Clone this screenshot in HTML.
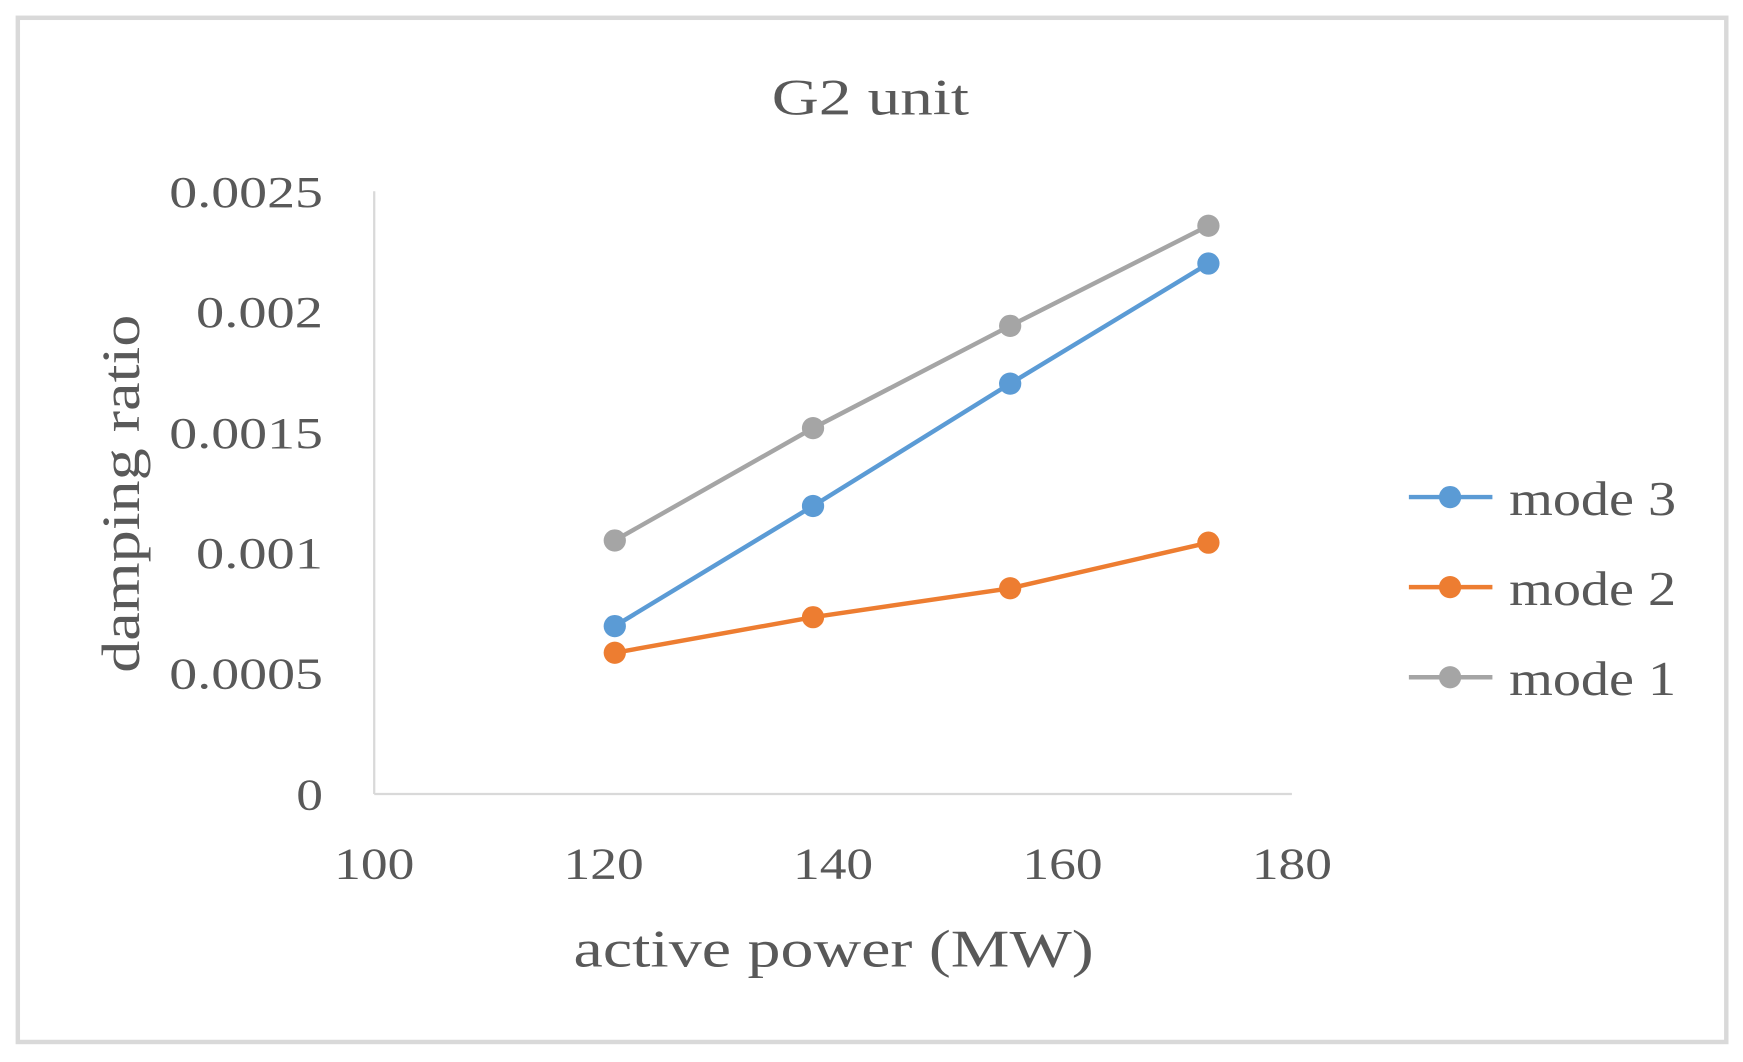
<!DOCTYPE html>
<html><head><style>html,body{margin:0;padding:0;background:#fff;}svg{display:block}</style></head>
<body>
<svg width="1743" height="1062" viewBox="0 0 1565 955" preserveAspectRatio="none" xmlns="http://www.w3.org/2000/svg" font-family="'Liberation Serif', serif" fill="#595959">
<rect x="0" y="0" width="1565" height="955" fill="#fff"/>
<rect x="16" y="16" width="1534" height="921" fill="#fff" stroke="#d9d9d9" stroke-width="4"/>
<text x="693" y="103" font-size="46" textLength="177" lengthAdjust="spacingAndGlyphs">G2 unit</text>
<line x1="336" y1="172" x2="336" y2="714" stroke="#d9d9d9" stroke-width="2"/>
<line x1="336" y1="714" x2="1160" y2="714" stroke="#d9d9d9" stroke-width="2"/>
<g font-size="40" lengthAdjust="spacingAndGlyphs">
<text x="266" y="728" textLength="24" lengthAdjust="spacingAndGlyphs">0</text>
<text x="152" y="619" textLength="138" lengthAdjust="spacingAndGlyphs">0.0005</text>
<text x="176" y="511" textLength="114" lengthAdjust="spacingAndGlyphs">0.001</text>
<text x="152" y="403" textLength="138" lengthAdjust="spacingAndGlyphs">0.0015</text>
<text x="176" y="294" textLength="114" lengthAdjust="spacingAndGlyphs">0.002</text>
<text x="152" y="186" textLength="138" lengthAdjust="spacingAndGlyphs">0.0025</text>
</g>
<g font-size="40">
<text x="300" y="790" textLength="72" lengthAdjust="spacingAndGlyphs">100</text>
<text x="506" y="790" textLength="72" lengthAdjust="spacingAndGlyphs">120</text>
<text x="712" y="790" textLength="72" lengthAdjust="spacingAndGlyphs">140</text>
<text x="918" y="790" textLength="72" lengthAdjust="spacingAndGlyphs">160</text>
<text x="1124" y="790" textLength="72" lengthAdjust="spacingAndGlyphs">180</text>
</g>
<text x="515" y="869" font-size="48" textLength="467" lengthAdjust="spacingAndGlyphs">active power (MW)</text>
<text transform="translate(125,605) rotate(-90)" font-size="48" textLength="322" lengthAdjust="spacingAndGlyphs">damping ratio</text>
<g stroke-width="4" fill="none">
<polyline points="552,486 730,385 907,293 1085,203" stroke="#a5a5a5"/>
<polyline points="552,563 730,455 907,345 1085,237" stroke="#5b9bd5"/>
<polyline points="552,587 730,555 907,529 1085,488" stroke="#ed7d31"/>
</g>
<g fill="#a5a5a5"><circle cx="552" cy="486" r="10"/><circle cx="730" cy="385" r="10"/><circle cx="907" cy="293" r="10"/><circle cx="1085" cy="203" r="10"/></g>
<g fill="#5b9bd5"><circle cx="552" cy="563" r="10"/><circle cx="730" cy="455" r="10"/><circle cx="907" cy="345" r="10"/><circle cx="1085" cy="237" r="10"/></g>
<g fill="#ed7d31"><circle cx="552" cy="587" r="10"/><circle cx="730" cy="555" r="10"/><circle cx="907" cy="529" r="10"/><circle cx="1085" cy="488" r="10"/></g>
<line x1="1265" y1="447" x2="1340" y2="447" stroke="#5b9bd5" stroke-width="4"/><circle cx="1302" cy="447" r="10" fill="#5b9bd5"/>
<line x1="1265" y1="528" x2="1340" y2="528" stroke="#ed7d31" stroke-width="4"/><circle cx="1302" cy="528" r="10" fill="#ed7d31"/>
<line x1="1265" y1="609" x2="1340" y2="609" stroke="#a5a5a5" stroke-width="4"/><circle cx="1302" cy="609" r="10" fill="#a5a5a5"/>
<g font-size="44">
<text x="1355" y="463" textLength="150" lengthAdjust="spacingAndGlyphs">mode 3</text>
<text x="1355" y="544" textLength="150" lengthAdjust="spacingAndGlyphs">mode 2</text>
<text x="1355" y="625" textLength="150" lengthAdjust="spacingAndGlyphs">mode 1</text>
</g>
</svg>
</body></html>
